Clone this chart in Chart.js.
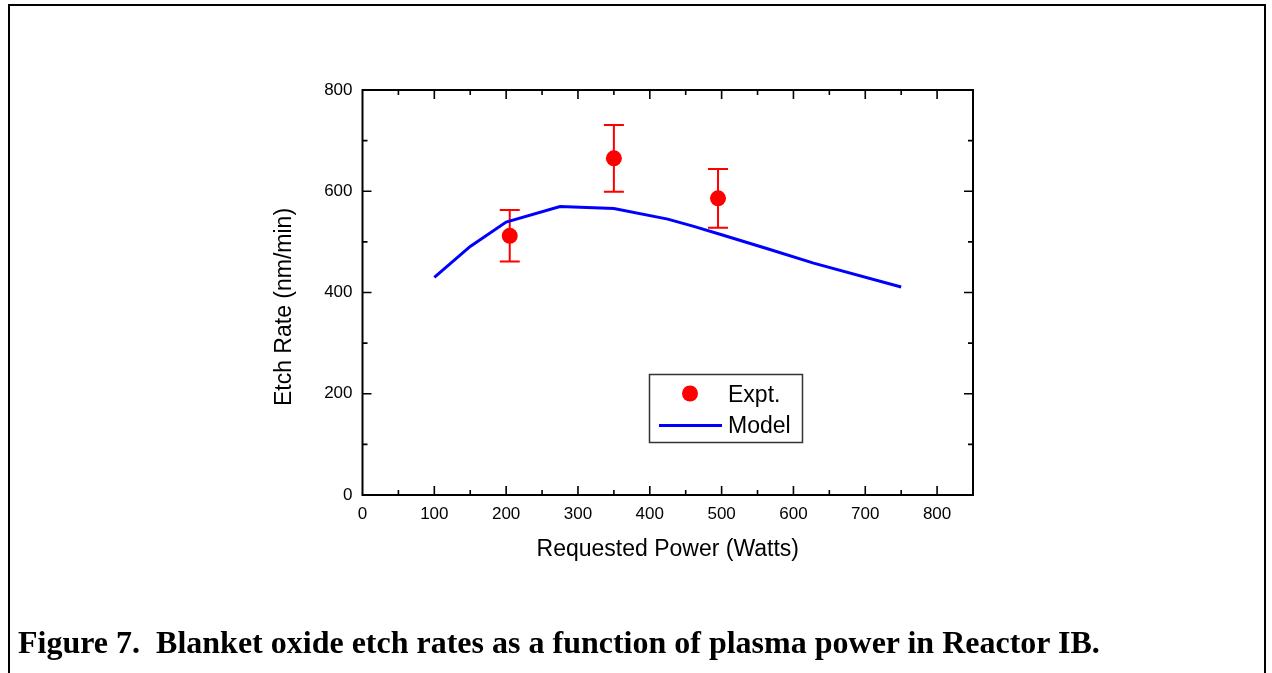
<!DOCTYPE html>
<html>
<head>
<meta charset="utf-8">
<script src="https://cdn.jsdelivr.net/npm/chart.js@4.4.1/dist/chart.umd.min.js"></script>
<style>
  html, body { margin: 0; padding: 0; background: #ffffff; }
  #wrap { position: relative; width: 1272px; height: 673px; overflow: hidden; background: #fff; }
  #frame { position: absolute; left: 7.5px; top: 4px; width: 1258px; height: 700px;
           border: 2px solid #000; box-sizing: border-box; }
  #c { position: absolute; left: 0; top: 0; }
  #caption { position: absolute; left: 18px; top: 626px; white-space: nowrap;
             font-family: "Liberation Serif", "Times New Roman", serif; font-weight: bold;
             font-size: 32px; line-height: 32px; color: #000; }
</style>
</head>
<body>
<div id="wrap">
  <div id="frame"></div>
  <canvas id="c" width="1272" height="673"></canvas>
  <div id="caption">Figure 7.&nbsp; Blanket oxide etch rates as a function of plasma power in Reactor IB.</div>
</div>
<script>
// ---- data ----
const modelPower = [100, 150, 200, 275, 350, 425, 460, 500, 565, 628, 750];
const modelRate  = [430, 491, 539, 570, 566, 545, 531, 514, 486, 458, 411];

const exptPower = [205, 350, 495];
const exptRate  = [512, 665, 586];
const exptErr   = [51, 66, 58];

const xTickValues = [0, 100, 200, 300, 400, 500, 600, 700, 800];
const yTickValues = [0, 200, 400, 600, 800];

const xTitle = 'Requested Power (Watts)';
const yTitle = 'Etch Rate (nm/min)';
const legendLabels = ['Expt.', 'Model'];

const FONT = '"Liberation Sans", Arial, Helvetica, sans-serif';

// ---- plugin: frame, inward ticks, error bars, y title, legend ----
const decor = {
  id: 'decor',
  beforeDatasetsDraw(chart) {
    const {ctx, scales: {x, y}} = chart;
    ctx.save();
    ctx.strokeStyle = '#ff0000';
    ctx.lineWidth = 2;
    const cap = 10;
    for (let i = 0; i < exptPower.length; i++) {
      const px = x.getPixelForValue(exptPower[i]);
      const top = y.getPixelForValue(exptRate[i] + exptErr[i]);
      const bot = y.getPixelForValue(exptRate[i] - exptErr[i]);
      ctx.beginPath();
      ctx.moveTo(px, top); ctx.lineTo(px, bot);
      ctx.moveTo(px - cap, top); ctx.lineTo(px + cap, top);
      ctx.moveTo(px - cap, bot); ctx.lineTo(px + cap, bot);
      ctx.stroke();
    }
    ctx.restore();
  },
  afterDraw(chart) {
    const {ctx, chartArea: a, scales: {x, y}} = chart;
    ctx.save();
    ctx.strokeStyle = '#000';
    ctx.lineWidth = 2;
    ctx.strokeRect(a.left, a.top, a.right - a.left, a.bottom - a.top);

    ctx.lineWidth = 1.6;
    ctx.beginPath();
    for (let v = 50; v < x.max; v += 50) {
      const px = x.getPixelForValue(v);
      const len = (v % 100 === 0) ? 9 : 5;
      ctx.moveTo(px, a.bottom); ctx.lineTo(px, a.bottom - len);
      ctx.moveTo(px, a.top); ctx.lineTo(px, a.top + len);
    }
    for (let v = 100; v < y.max; v += 100) {
      const py = y.getPixelForValue(v);
      const len = (v % 200 === 0) ? 9 : 5;
      ctx.moveTo(a.left, py); ctx.lineTo(a.left + len, py);
      ctx.moveTo(a.right, py); ctx.lineTo(a.right - len, py);
    }
    ctx.stroke();

    // y axis title
    ctx.fillStyle = '#000';
    ctx.font = '23px ' + FONT;
    ctx.textAlign = 'center';
    ctx.textBaseline = 'alphabetic';
    ctx.translate(291, 307);
    ctx.rotate(-Math.PI / 2);
    ctx.fillText(yTitle, 0, 0);
    ctx.restore();

    // legend
    ctx.save();
    ctx.strokeStyle = '#333';
    ctx.lineWidth = 1.5;
    ctx.strokeRect(649.5, 374.5, 153, 68);
    ctx.fillStyle = '#ff0000';
    ctx.beginPath();
    ctx.arc(690, 393.5, 8, 0, Math.PI * 2);
    ctx.fill();
    ctx.strokeStyle = '#0000ff';
    ctx.lineWidth = 3;
    ctx.beginPath();
    ctx.moveTo(659, 425.5); ctx.lineTo(722, 425.5);
    ctx.stroke();
    ctx.fillStyle = '#000';
    ctx.font = '23px ' + FONT;
    ctx.textAlign = 'left';
    ctx.textBaseline = 'alphabetic';
    ctx.fillText(legendLabels[0], 728, 402);
    ctx.fillText(legendLabels[1], 728, 433);
    ctx.restore();
  }
};

new Chart(document.getElementById('c'), {
  type: 'scatter',
  data: {
    datasets: [
      {
        label: legendLabels[0],
        data: exptPower.map((p, i) => ({x: p, y: exptRate[i]})),
        pointRadius: 8,
        pointHoverRadius: 8,
        pointBackgroundColor: '#ff0000',
        pointBorderWidth: 0,
        showLine: false
      },
      {
        label: legendLabels[1],
        type: 'line',
        data: modelPower.map((p, i) => ({x: p, y: modelRate[i]})),
        borderColor: '#0000ff',
        borderWidth: 3,
        pointRadius: 0,
        tension: 0,
        fill: false
      }
    ]
  },
  options: {
    responsive: false,
    animation: false,
    events: [],
    layout: { padding: { left: 260, right: 299, top: 90, bottom: 93 } },
    plugins: { legend: { display: false }, tooltip: { enabled: false } },
    scales: {
      x: {
        type: 'linear',
        min: 0, max: 850,
        grid: { display: false, drawTicks: false },
        border: { display: false },
        afterBuildTicks: (s) => { s.ticks = xTickValues.map(v => ({value: v})); },
        afterFit: (s) => { s.height = 85; },
        ticks: { color: '#000', font: { family: FONT, size: 17 }, padding: 9, maxRotation: 0, autoSkip: false },
        title: { display: true, text: xTitle, color: '#000', font: { family: FONT, size: 23 }, padding: { top: 0, bottom: 17 } }
      },
      y: {
        type: 'linear',
        min: 0, max: 800,
        grid: { display: false, drawTicks: false },
        border: { display: false },
        afterBuildTicks: (s) => { s.ticks = yTickValues.map(v => ({value: v})); },
        afterFit: (s) => { s.width = 102.5; },
        ticks: { color: '#000', font: { family: FONT, size: 17 }, padding: 10, autoSkip: false }
      }
    }
  },
  plugins: [decor]
});
</script>
</body>
</html>
